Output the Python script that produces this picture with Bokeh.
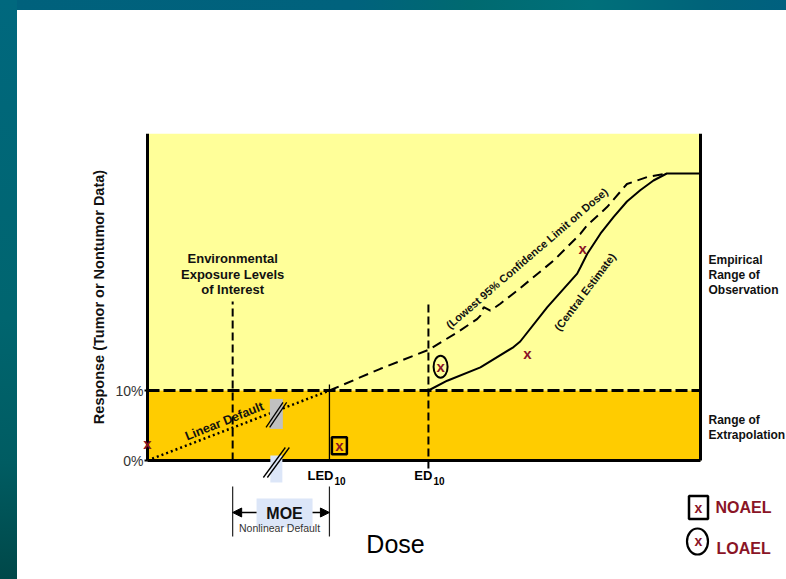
import math
from bokeh.plotting import figure
from bokeh.models import (Range1d, FixedTicker, LinearAxis, Label, Arrow, NormalHead,
                          BoxAnnotation, GlobalInlineStyleSheet)
from bokeh.core.properties import value
from bokeh.embed import file_html
from bokeh.resources import INLINE

# ---------------- data ----------------
BMR = 10.0            # benchmark response (%)
LED10 = 32.9          # lower bound dose at 10 % response
ED10 = 50.8           # central estimate dose at 10 % response
ENV_DOSE = 15.4       # environmental exposure level of interest
BREAK_DOSE = 23.3     # axis break position
X_MAX = 100.0         # end of the dose axis

linear_dose = [0.0, LED10]
linear_resp = [0.0, BMR]

central_dose = [50.8, 54.2, 60.2, 66.2, 67.4, 72.3, 77.7, 78.3, 79.5, 81.9, 84.3, 86.7, 89.1, 91.5, 93.9, 100.0]
central_resp = [10.0, 11.4, 13.3, 16.2, 17.0, 21.9, 26.7, 27.6, 29.5, 32.4, 34.8, 37.0, 38.6, 40.0, 41.0, 41.0]

lower_dose = [32.9, 42.1, 50.8, 56.0, 59.6, 60.2, 60.8, 62.0, 63.8, 66.9, 73.5, 78.3, 79.5, 83.1, 86.7, 90.4, 94.0]
lower_resp = [10.0, 13.1, 15.8, 18.3, 20.2, 20.7, 21.9, 21.4, 22.4, 24.3, 28.6, 32.4, 33.6, 36.2, 39.5, 40.5, 41.0]

obs_dose = [0.0, 68.7, 78.7]
obs_resp = [2.4, 15.3, 30.3]
noael_dose = [34.7]
noael_resp = [2.1]
loael_dose = [53.0]
loael_resp = [13.4]

y_ticks = [0, 10]
y_tick_labels = ["0%", "10%"]

# ---------------- layout ----------------
W, H = 786, 579
FL, FT = 80, 133           # frame left / top (px)
AX_X, AX_Y = 147, 460      # pixel position of dose 0 / response 0
PXD, PXR = 5.53, 7.0       # px per dose unit / per response unit
Y_TOP = (AX_Y - FT) / PXR

FONT = "Liberation Sans"
RED = "#8A1426"
YELLOW = "#FFFF99"
ORANGE = "#FFCC00"
PALE_BLUE = "#DCE6F8"


def off(d, r, dx=0.0, dy=0.0):
    """shift a data point by screen pixels (dy positive = down)"""
    return d + dx / PXD, r - dy / PXR


def below(px):
    """response value px pixels below the dose axis"""
    return -px / PXR


css = """
body {
  background:
    linear-gradient(to bottom, #00687e 0%, #00656f 55%, #005c62 80%, #004849 100%) left top / 17px 100% no-repeat,
    linear-gradient(to right, #00617c 0%, #00627d 45%, #006a70 60%, #00707a 75%, #00637a 90%, #00607f 100%) left top / 100% 10px no-repeat,
    #ffffff;
}
"""

p = figure(width=W, height=H, output_backend="svg", toolbar_location=None,
           x_axis_location="above", y_axis_location="left",
           x_range=Range1d((FL - AX_X) / PXD, (W - AX_X) / PXD),
           y_range=Range1d(-(H - AX_Y) / PXR, Y_TOP),
           min_border_left=FL, min_border_right=0, min_border_top=FT, min_border_bottom=0,
           background_fill_color=None, border_fill_color=None, outline_line_color=None)
p.stylesheets = [GlobalInlineStyleSheet(css=css)]
p.grid.visible = False

# response axis at dose 0
ya = p.yaxis[0]
ya.fixed_location = 0
ya.bounds = (0, Y_TOP)
ya.ticker = FixedTicker(ticks=y_ticks)
ya.major_label_overrides = {t: s for t, s in zip(y_ticks, y_tick_labels)}
ya.axis_line_width = 3
ya.axis_line_color = "black"
ya.major_tick_out = 3
ya.major_tick_in = 0
ya.major_tick_line_width = 2
ya.minor_tick_line_color = None
ya.major_label_standoff = 1
ya.major_label_text_font = FONT
ya.major_label_text_font_size = "14px"
ya.major_label_text_color = "#333333"
ya.axis_label = "Response (Tumor or Nontumor Data)"
ya.axis_label_text_font = FONT
ya.axis_label_text_font_style = "bold"
ya.axis_label_text_font_size = "14.5px"
ya.axis_label_text_color = "#111111"
ya.axis_label_standoff = 5

# dose axis (line only) at response 0
xa = p.xaxis[0]
xa.fixed_location = 0
xa.bounds = (0, X_MAX)
xa.ticker = FixedTicker(ticks=[])
xa.axis_line_width = 3
xa.axis_line_color = "black"
xa.major_tick_line_color = None
xa.minor_tick_line_color = None

# right border of the graph
rb = LinearAxis(fixed_location=X_MAX, bounds=(0, Y_TOP), ticker=FixedTicker(ticks=[]),
                axis_line_width=3, axis_line_color="black",
                major_tick_line_color=None, minor_tick_line_color=None)
p.add_layout(rb, "left")

# observation / extrapolation bands
p.add_layout(BoxAnnotation(left=0, right=X_MAX, bottom=BMR, fill_color=YELLOW, fill_alpha=1.0,
                           line_color=None, level="underlay"))
p.add_layout(BoxAnnotation(left=0, right=X_MAX, bottom=0, top=BMR, fill_color=ORANGE, fill_alpha=1.0,
                           line_color=None, level="underlay"))

# vertical reference lines
p.segment(x0=[ENV_DOSE], y0=[0], x1=[ENV_DOSE], y1=[off(0, 0, 0, -159)[1]],
          line_color="black", line_width=2, line_dash="8 4")
p.segment(x0=[ED10], y0=[below(8)], x1=[ED10], y1=[off(0, 0, 0, -157)[1]],
          line_color="black", line_width=2, line_dash="8 4")
p.segment(x0=[LED10], y0=[0], x1=[LED10], y1=[off(0, BMR, 0, -6)[1]], line_color="black", line_width=1.3)

# curves
p.line(linear_dose, linear_resp, line_color="black", line_width=2.5, line_dash="2 3")
p.line(lower_dose, lower_resp, line_color="black", line_width=2, line_dash="10 6")
p.line(central_dose, central_resp, line_color="black", line_width=2)

# 10 % line
p.line([0, X_MAX], [BMR, BMR], line_color="black", line_width=3, line_dash="12 4")

# upper axis break (on linear default)
bx, by = BREAK_DOSE, BREAK_DOSE * BMR / LED10
p.rect(x=[bx], y=[off(bx, by, 0, 3)[1]], width=13, height=30, width_units="screen", height_units="screen",
       fill_color="#C0C0C0", line_color=None)
for o in (-1.8, 1.8):
    x0, y0 = off(bx, by, o - 8.5, 4 + 12.5)
    x1, y1 = off(bx, by, o + 8.5, 4 - 12.5)
    p.segment(x0=[x0], y0=[y0], x1=[x1], y1=[y1], line_color="black", line_width=1.3)

# lower axis break (on dose axis)
p.rect(x=[bx], y=[below(8.5)], width=12, height=27, width_units="screen", height_units="screen",
       fill_color=PALE_BLUE, line_color=None, level="overlay")
for o in (-2.0, 2.0):
    x0, y0 = off(bx, 0, o - 11, 2 + 15)
    x1, y1 = off(bx, 0, o + 11, 2 - 15)
    p.segment(x0=[x0], y0=[y0], x1=[x1], y1=[y1], line_color="black", line_width=1.3, level="overlay")

# observations
xkw = dict(text_font=value(FONT), text_font_style="bold", text_font_size="15px", text_color=RED,
           text_align="center", text_baseline="middle")
p.text(obs_dose, obs_resp, text=["x"] * len(obs_dose), level="overlay", **xkw)
p.rect(noael_dose, noael_resp, width=15, height=17, width_units="screen", height_units="screen",
       fill_color=None, line_color="black", line_width=2.5)
p.text(noael_dose, noael_resp, text=["x"], **xkw)
p.ellipse(loael_dose, loael_resp, width=14, height=22, width_units="screen", height_units="screen",
          fill_color=None, line_color="black", line_width=2)
p.text(loael_dose, loael_resp, text=["x"], **xkw)


def lab(x, y, text, size="13px", bold=True, align="center", color="#111111", angle=0.0):
    p.add_layout(Label(x=x, y=y, text=text, text_font=FONT, text_font_size=size,
                       text_font_style="bold" if bold else "normal", text_align=align,
                       text_baseline="middle", text_color=color, angle=math.radians(angle)))


# annotations in graph
for i, t in enumerate(["Environmental", "Exposure Levels", "of Interest"]):
    lab(ENV_DOSE, off(0, 0, 0, -202 + 15.5 * i)[1], t, "13px")
lab(13.9, 5.6, "Linear Default", "12.5px", angle=22)
lab(68.6, 28.9, "(Lowest 95% Confidence Limit on Dose)", "11px", angle=40.7)
lab(79.1, 24.1, "(Central Estimate)", "11px", angle=53)

# right side texts
for i, t in enumerate(["Empirical", "Range of", "Observation"]):
    lab(*off(X_MAX, 0, 8, -201 + 15 * i), t, "12px", align="left")
for i, t in enumerate(["Range of", "Extrapolation"]):
    lab(*off(X_MAX, 0, 8, -41 + 15 * i), t, "12px", align="left")

# dose axis marks
for d, t in ((LED10, "LED"), (ED10, "ED")):
    lab(*off(d, 0, 4, 15), t, "13px", align="right", color="black")
    lab(*off(d, 0, 5, 20), "10", "10px", align="left", color="black")
lab(44.85, below(83), "Dose", "25px", bold=False, color="black")

# margin of exposure bracket
moe_c = off((ENV_DOSE + LED10) / 2, 0, 3.5)[0]
p.rect(x=[moe_c], y=[below(52.5)], width=56, height=29, width_units="screen", height_units="screen",
       fill_color=PALE_BLUE, line_color=None)
p.segment(x0=[ENV_DOSE, LED10], y0=[below(26)] * 2, x1=[ENV_DOSE, LED10], y1=[below(76)] * 2,
          line_color="#222222", line_width=1.2)
for d, s in ((ENV_DOSE, -1), (LED10, 1)):
    p.add_layout(Arrow(end=NormalHead(size=9, fill_color="black", line_color="black"),
                       x_start=off(moe_c, 0, 28 * s)[0], y_start=below(52), x_end=d, y_end=below(52),
                       line_color="black", line_width=1.5))
lab(moe_c, below(53), "MOE", "16px", color="#111111")
lab(off(moe_c, 0, -5)[0], below(67), "Nonlinear Default", "10.5px", bold=False, color="#333333")

# legend
p.rect(*off(X_MAX, 0, -2, 47), width=19, height=23, width_units="screen", height_units="screen",
       fill_color=None, line_color="black", line_width=2.5)
p.ellipse(*off(X_MAX, 0, -3, 81), width=21, height=26, width_units="screen", height_units="screen",
          fill_color=None, line_color="black", line_width=2.2)
lab(*off(X_MAX, 0, -2, 47), "x", "14px", color=RED)
lab(*off(X_MAX, 0, -2, 80), "x", "14px", color=RED)
lab(*off(X_MAX, 0, 15, 47), "NOAEL", "16px", align="left", color=RED)
lab(*off(X_MAX, 0, 16, 88), "LOAEL", "16px", align="left", color=RED)

open("out.html", "w").write(file_html(p, INLINE))
